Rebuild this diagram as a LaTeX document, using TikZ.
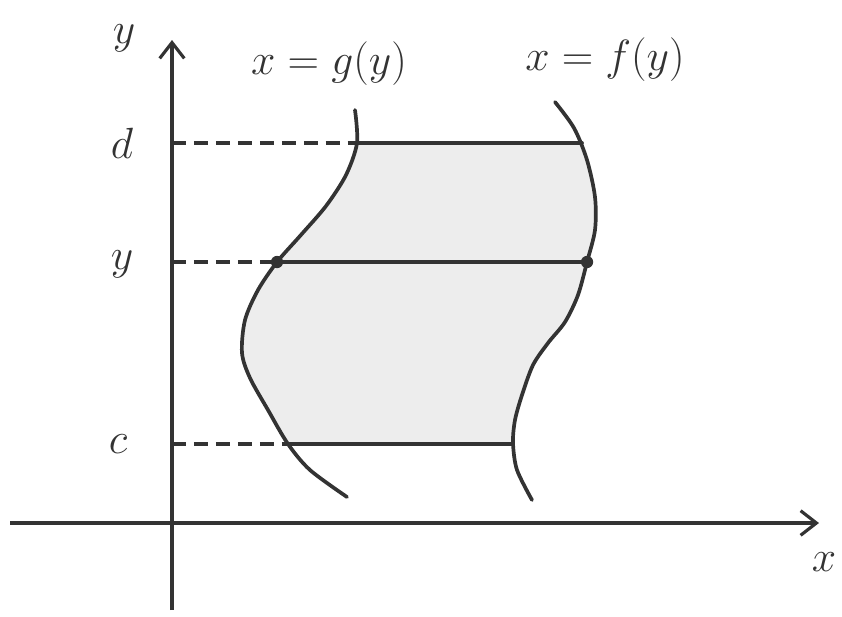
\documentclass[tikz,border=0pt]{standalone}
\usepackage{tikz}
\usetikzlibrary{positioning, arrows.meta, calc}
\usepackage{amsmath}
\usepackage{xcolor}
\definecolor{pencil}{HTML}{333333}
\definecolor{shadegray}{HTML}{EDEDED}

\tikzset{
  axisline/.style={draw=pencil, line width=2.1pt, -{Straight Barb[length=9pt, width=14pt, line width=1.8pt]}},
  curveline/.style={draw=pencil, line width=2.1pt, line cap=round},
  guideline/.style={draw=pencil, line width=2.1pt, dash pattern=on 8pt off 4.5pt},
  marklabel/.style={font=\fontsize{30}{34}\selectfont, text=pencil, inner sep=0pt},
  dotmark/.style={circle, fill=pencil, inner sep=0pt, minimum size=7pt},
}

\begin{document}
\begin{tikzpicture}[x=0.02cm, y=-0.02cm]
  \useasboundingbox (0,0) rectangle (842,616);

  % shaded strip between the two curves
  \fill[shadegray]
    plot[smooth, tension=0.5] coordinates {(357,143) (346,175) (326,206) (300,236) (277,262) (258,290) (245,320) (242,353) (250,378) (268,410) (288,444)}
    -- plot[smooth, tension=0.5] coordinates {(513,443) (515,420) (522,395) (533,365) (548,343) (565,322) (578,295) (587,262) (595,230) (596,200) (582,143)}
    -- cycle;

  % axes
  \coordinate (xstart) at (10,523);
  \coordinate (xend) at (819,523);
  \coordinate (ystart) at (172,610);
  \coordinate (yend) at (172,40);
  \draw[axisline] (xstart) -- (xend);
  \draw[axisline] (ystart) -- (yend);
  \node[marklabel] (ylab) at (124,38) {$y$};
  \node[marklabel] (xlab) at (824,562) {$x$};

  % x = g(y) and x = f(y)
  \draw[curveline] plot[smooth, tension=0.5] coordinates {(355,110) (357,143) (346,175) (326,206) (300,236) (277,262) (258,290) (245,320) (242,353) (250,378) (268,410) (288,444) (310,470) (347,497)};
  \draw[curveline] plot[smooth, tension=0.5] coordinates {(555,102) (574,128) (587,160) (595,197) (595,230) (587,262) (578,295) (565,322) (548,343) (533,365) (522,395) (515,420) (513,443) (517,470) (532,500)};
  \node[marklabel] (glab) at (329,64) {$x=g(y)$};
  \node[marklabel] (flab) at (605,60) {$x=f(y)$};

  % levels d, y, c
  \coordinate (dax) at (172,143);
  \coordinate (dleft) at (357,143);
  \coordinate (dright) at (582,143);
  \coordinate (yax) at (172,262);
  \node[dotmark] (yleft) at (277,262) {};
  \node[dotmark] (yright) at (587,262) {};
  \coordinate (cax) at (172,444);
  \coordinate (cleft) at (288,444);
  \coordinate (cright) at (513,444);

  \draw[guideline] (dax) -- (dleft);
  \draw[guideline] (yax) -- (yleft.center);
  \draw[guideline] (cax) -- (cleft);
  \draw[curveline] (dleft) -- (dright);
  \draw[curveline] (yleft.center) -- (yright.center);
  \draw[curveline] (cleft) -- (cright);

  \node[marklabel] (dlab) at (122,143) {$d$};
  \node[marklabel] (yvlab) at (122,264) {$y$};
  \node[marklabel] (clab) at (118,444) {$c$};
\end{tikzpicture}
\end{document}
